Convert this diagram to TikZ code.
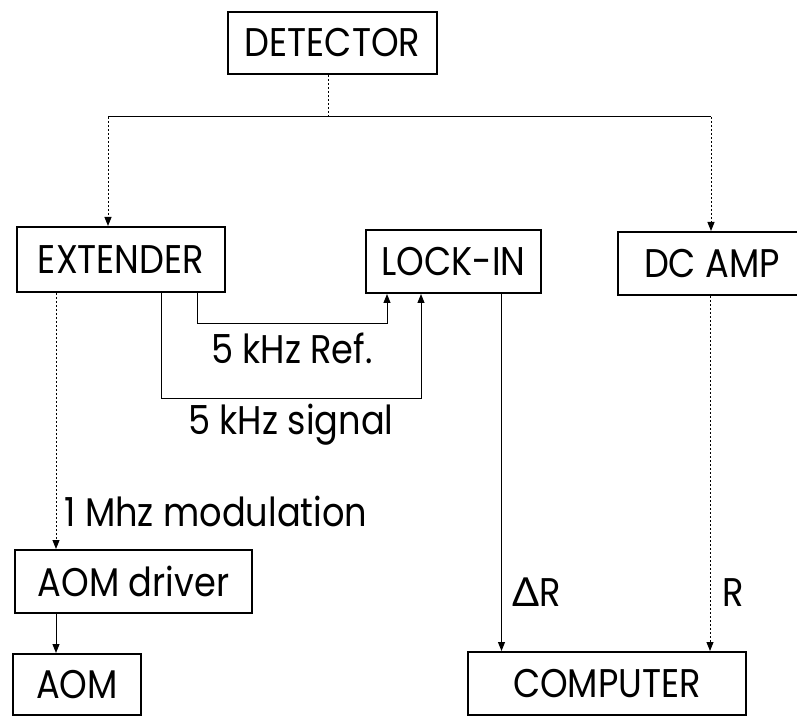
\documentclass[tikz,border=0pt]{standalone}
\usepackage{fontspec}
\setmainfont{Poppins}[FakeStretch=0.88]
\newfontfamily\greekfont{Lato}
\usepackage{xcolor}
\usepackage{tikz}
\usetikzlibrary{calc, positioning, arrows.meta}

\begin{document}
\begin{tikzpicture}[
  x=0.5pt, y=-0.5pt,
  unit/.style={rectangle, draw=black, line width=1pt, inner sep=0pt, font=\fontsize{20}{24}\selectfont},
  label/.style={inner sep=0pt, font=\fontsize{20}{24}\selectfont},
  wire/.style={draw=black, line width=0.5pt, -{Triangle[length=4.5pt, width=3.5pt]}},
  link/.style={wire, dash pattern=on 1.2pt off 0.8pt}
]
  \useasboundingbox (0,0) rectangle (797,716);

  \node[unit, minimum width=104.5pt, minimum height=31pt] (det) at (332.5,43) {DETECTOR};

  \node[unit, minimum width=104pt, minimum height=32.5pt] (ext) at (121,259.5) {EXTENDER};
  \node[unit, minimum width=87.5pt, minimum height=31.5pt] (lock) at (453.5,261.5) {LOCK-IN};
  \node[unit, minimum width=94pt, minimum height=31.5pt] (dcamp) at (712,263.5) {DC AMP};

  \node[unit, minimum width=118.5pt, minimum height=31.5pt] (drv) at (133.5,581.5) {AOM driver};
  \node[unit, minimum width=64pt, minimum height=30.5pt] (aom) at (77,684.5) {AOM};
  \node[unit, minimum width=139pt, minimum height=31.5pt] (comp) at (607,683.5) {COMPUTER};

  % taps on the boxes
  \coordinate (split) at (328,117);
  \coordinate (dropL) at ($(ext.north)+(-13,0)$);
  \coordinate (dropR) at ($(dcamp.north)+(-1,0)$);
  \coordinate (modtap) at ($(ext.south)+(-65,0)$);
  \coordinate (refout) at ($(ext.south)+(76,0)$);
  \coordinate (refin) at ($(lock.south)+(-66.5,0)$);
  \coordinate (sigout) at ($(ext.south)+(40,0)$);
  \coordinate (sigin) at ($(lock.south)+(-32.5,0)$);
  \coordinate (dtap) at ($(lock.south)+(48,0)$);
  \coordinate (rtap) at ($(dcamp.south)+(-2,0)$);

  % detector to extender and dc amp
  \draw[link, -] (det.south -| split) -- (split);
  \draw[wire, -] (split -| dropL) -- (split -| dropR);
  \draw[link] (split -| dropL) -- (dropL);
  \draw[link] (split -| dropR) -- (dropR);

  % extender to lock-in
  \draw[wire] (refout) -- ++(0,31) -| (refin)
    node[label, pos=0.25, below=4pt] {5 kHz Ref.};
  \draw[wire] (sigout) -- ++(0,105) -| (sigin)
    node[label, pos=0.25, below=3pt] {5 kHz signal};

  % modulation chain
  \draw[link] (modtap) -- (modtap |- drv.north)
    node[label, pos=0.853, right=4pt] {1 Mhz modulation};
  \draw[wire] (modtap |- drv.south) -- (modtap |- aom.north);

  % outputs to the computer
  \draw[wire] (dtap) -- (dtap |- comp.north)
    node[label, pos=0.835, right=5pt] {{\greekfont Δ}R};
  \draw[link] (rtap) -- (rtap |- comp.north)
    node[label, pos=0.835, right=6pt] {R};
\end{tikzpicture}
\end{document}
